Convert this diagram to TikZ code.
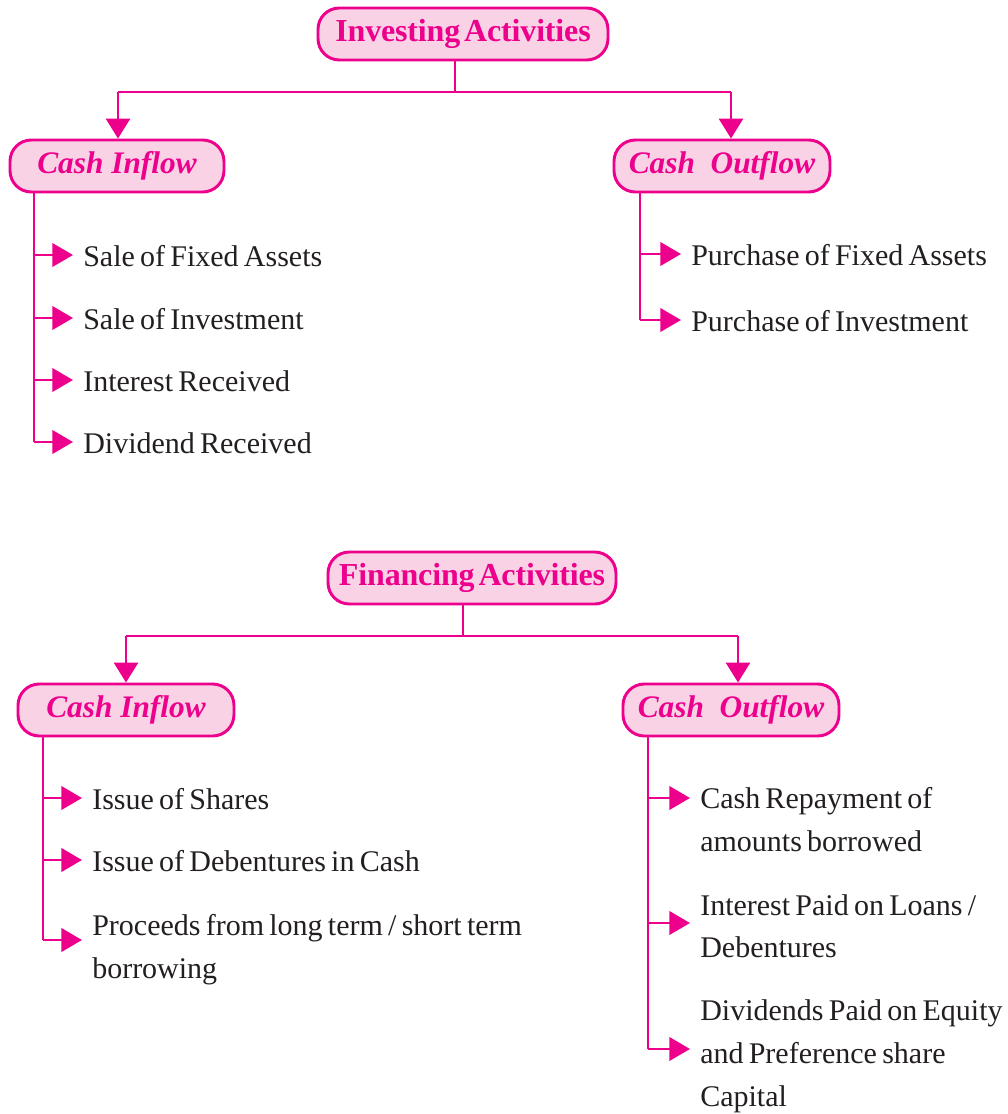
\documentclass[tikz,border=0pt]{standalone}
\usepackage{fontspec}
\setmainfont{Liberation Serif}[WordSpace=0.7]
\newfontfamily\headfont{Liberation Serif}[WordSpace=0.5, LetterSpace=-0.5]
\newfontfamily\subfont{Liberation Serif}
\usetikzlibrary{arrows.meta}
\definecolor{mag}{HTML}{EC008C}
\definecolor{pinkfill}{HTML}{F9D3E5}
\definecolor{ink}{HTML}{231F20}
\tikzset{
  headbox/.style={draw=mag, fill=pinkfill, line width=2.2pt, rounded corners=16pt,
    minimum height=39pt, inner sep=0pt, text=mag,
    font=\headfont\bfseries\fontsize{24}{27}\selectfont},
  subbox/.style={headbox, font=\subfont\bfseries\itshape\fontsize{23.5}{26}\selectfont},
  conn/.style={draw=mag, line width=2.2pt},
  rtip/.style={-{Triangle[length=15.5pt,width=17.5pt]}, shorten >=7.5pt},
  dtip/.style={-{Triangle[length=15pt,width=18pt]}},
  item/.style={anchor=base west, inner sep=0pt, text=ink,
    font=\fontsize{22.5}{27}\selectfont},
}
\begin{document}
\begin{tikzpicture}[x=0.75pt, y=-0.75pt]
\useasboundingbox (0,0) rectangle (1007,1114);

% ---------------- Investing ----------------
\node[headbox, minimum width=217.5pt] (inv) at (463,34) {Investing Activities};
\node[subbox, minimum width=160.5pt] (ciA) at (117,166) {Cash Inflow};
\node[subbox, minimum width=162pt] (coA) at (722,166) {Cash\ \ Outflow};

\coordinate (jA) at (455,92);
\coordinate (lA) at (118,92);
\coordinate (rA) at (731,92);
\draw[conn] (inv.south -| jA) -- (jA);
\draw[conn] (lA) -- (rA);
\draw[conn, dtip] (lA) -- (lA |- ciA.north);
\draw[conn, dtip] (rA) -- (rA |- coA.north);

% inflow items
\node[item] (iA1) at (83,266) {Sale of Fixed Assets};
\node[item] (iA2) at (83,329) {Sale of Investment};
\node[item] (iA3) at (83,391) {Interest Received};
\node[item] (iA4) at (83,453) {Dividend Received};
\coordinate (bA1) at (34,255);
\coordinate (bA2) at (34,318);
\coordinate (bA3) at (34,380);
\coordinate (bA4) at (34,442);
\draw[conn] (ciA.south -| bA1) -- (bA4);
\foreach \i in {1,2,3,4}{
  \draw[conn, rtip] (bA\i) -- (bA\i -| iA\i.west);
}

% outflow items
\node[item] (oA1) at (691,265) {Purchase of Fixed Assets};
\node[item] (oA2) at (691,331) {Purchase of Investment};
\coordinate (cA1) at (640,254);
\coordinate (cA2) at (640,320);
\draw[conn] (coA.south -| cA1) -- (cA2);
\foreach \i in {1,2}{
  \draw[conn, rtip] (cA\i) -- (cA\i -| oA\i.west);
}

% ---------------- Financing ----------------
\node[headbox, minimum width=216pt] (fin) at (472,578) {Financing Activities};
\node[subbox, minimum width=162pt] (ciB) at (126,710) {Cash Inflow};
\node[subbox, minimum width=162pt] (coB) at (731,710) {Cash\ \ Outflow};

\coordinate (jB) at (463,636);
\coordinate (lB) at (126,636);
\coordinate (rB) at (738,636);
\draw[conn] (fin.south -| jB) -- (jB);
\draw[conn] (lB) -- (rB);
\draw[conn, dtip] (lB) -- (lB |- ciB.north);
\draw[conn, dtip] (rB) -- (rB |- coB.north);

% inflow items
\node[item] (iB1) at (92,809) {Issue of Shares};
\node[item] (iB2) at (92,871) {Issue of Debentures in Cash};
\node[item] (iB3) at (92,935) {Proceeds from long term / short term};
\node[item] (iB3b) at (92,978) {borrowing};
\coordinate (bB1) at (43,798);
\coordinate (bB2) at (43,860);
\coordinate (bB3) at (43,940);
\draw[conn] (ciB.south -| bB1) -- (bB3);
\foreach \i in {1,2,3}{
  \draw[conn, rtip] (bB\i) -- (bB\i -| iB\i.west);
}

% outflow items
\node[item] (oB1) at (700,808) {Cash Repayment of};
\node[item] (oB1b) at (700,851) {amounts borrowed};
\node[item] (oB2) at (700,915) {Interest Paid on Loans /};
\node[item] (oB2b) at (700,957) {Debentures};
\node[item] (oB3) at (700,1020) {Dividends Paid on Equity};
\node[item] (oB3b) at (700,1063) {and Preference share};
\node[item] (oB3c) at (700,1106) {Capital};
\coordinate (cB1) at (648,798);
\coordinate (cB2) at (648,923);
\coordinate (cB3) at (648,1049);
\draw[conn] (coB.south -| cB1) -- (cB3);
\foreach \i in {1,2,3}{
  \draw[conn, rtip] (cB\i) -- (cB\i -| oB\i.west);
}
\end{tikzpicture}
\end{document}
